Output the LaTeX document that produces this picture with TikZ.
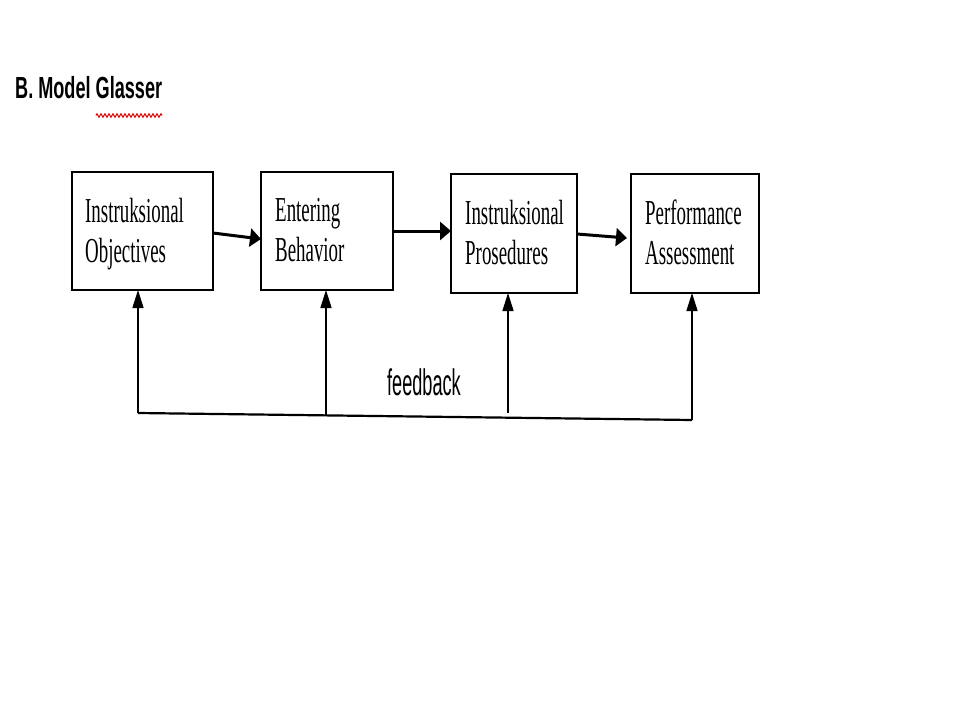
\documentclass[tikz,border=0pt]{standalone}
\usepackage{graphicx}
\usepackage{fontspec}
\setmainfont{Liberation Serif}
\newfontfamily\arialf{Liberation Sans}
\usetikzlibrary{arrows.meta,decorations.pathmorphing}
\begin{document}
\begin{tikzpicture}[x=1pt,y=-1pt,
  boxst/.style={draw, line width=1.7pt, inner sep=0pt, outer sep=0pt, anchor=north west},
  boxtxt/.style={anchor=base west, inner sep=0pt, font=\fontsize{35}{40}\selectfont},
  harrow/.style={line width=3pt, -{Triangle[length=11pt,width=18pt]}},
  varrow/.style={line width=1.5pt, -{Triangle[length=18pt,width=11pt]}},
  fbline/.style={line width=2.2pt}]
\fill[white] (0,0) rectangle (960,720);
\useasboundingbox (0,0) rectangle (960,720);

% title
\node[anchor=base west, inner sep=0pt] (title) at (15,98)
  {\arialf\bfseries\fontsize{30.5}{34}\selectfont\scalebox{0.594}[1]{B. Model Glasser}};
\draw[red!85!black, line width=1pt, decorate, decoration={zigzag, amplitude=1.8pt, segment length=4pt}]
  (96,115.5) -- (162,115.5);

% boxes
\node[boxst, minimum width=141pt, minimum height=118pt] (b1) at (72,172) {};
\node[boxst, minimum width=132pt, minimum height=118pt] (b2) at (261,172) {};
\node[boxst, minimum width=126pt, minimum height=119pt] (b3) at (451,174) {};
\node[boxst, minimum width=128pt, minimum height=119pt] (b4) at (631,174) {};

% box texts
\node[boxtxt] (t1a) at ([xshift=13pt,yshift=-50.5pt]b1.north west) {\scalebox{0.54}[1]{Instruksional}};
\node[boxtxt] (t1b) at ([xshift=13pt,yshift=-90.5pt]b1.north west) {\scalebox{0.54}[1]{Objectives}};
\node[boxtxt] (t2a) at ([xshift=14pt,yshift=-49.5pt]b2.north west) {\scalebox{0.54}[1]{Entering}};
\node[boxtxt] (t2b) at ([xshift=14pt,yshift=-89.5pt]b2.north west) {\scalebox{0.54}[1]{Behavior}};
\node[boxtxt] (t3a) at ([xshift=14pt,yshift=-50pt]b3.north west) {\scalebox{0.54}[1]{Instruksional}};
\node[boxtxt] (t3b) at ([xshift=14pt,yshift=-90pt]b3.north west) {\scalebox{0.54}[1]{Prosedures}};
\node[boxtxt] (t4a) at ([xshift=14pt,yshift=-50pt]b4.north west) {\scalebox{0.54}[1]{Performance}};
\node[boxtxt] (t4b) at ([xshift=14pt,yshift=-90pt]b4.north west) {\scalebox{0.54}[1]{Assessment}};

% forward arrows
\draw[harrow] ([yshift=-2pt]b1.east) -- ([yshift=-8pt]b2.west);
\draw[harrow] (b2.east) -- (b3.west |- b2.east);
\draw[harrow] ([yshift=-0.5pt]b3.east) -- ([xshift=-4pt,yshift=-4.5pt]b4.west);

% feedback loop
\coordinate (f1) at (138,413);
\coordinate (f2) at (326,415);
\coordinate (f3) at (508,413);
\coordinate (f4) at (692,420);
\draw[fbline] (f1) -- (f4);
\draw[varrow] (f1) -- (f1 |- b1.south);
\draw[varrow] (f2) -- (f2 |- b2.south);
\draw[varrow] (f3) -- (f3 |- b3.south);
\draw[varrow] (f4) -- (f4 |- b4.south);

\node[anchor=base west, inner sep=0pt] (fb) at (387,395)
  {\arialf\fontsize{37}{40}\selectfont\scalebox{0.49}[1]{feedback}};
\end{tikzpicture}
\end{document}
